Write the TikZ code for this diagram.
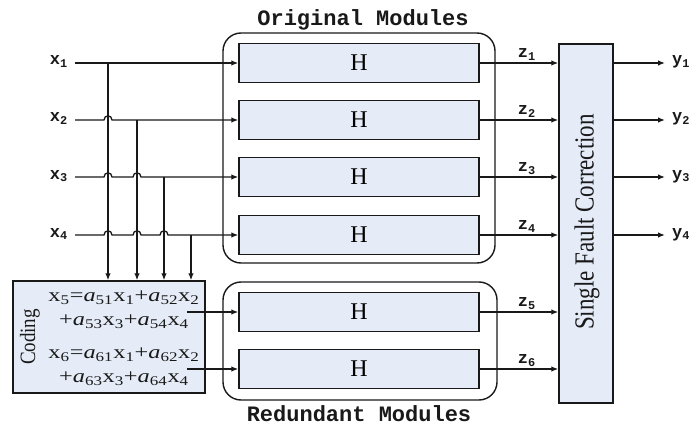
\documentclass[tikz,border=0pt]{standalone}
\usepackage{fontspec}
\setmainfont{Liberation Serif}
\newfontfamily\sigfont{Liberation Mono}
\usetikzlibrary{arrows.meta}
\definecolor{boxfill}{RGB}{229,236,247}
\definecolor{ink}{RGB}{25,25,25}
\newcommand\sbx[1]{\textsubscript{#1}}
\newcommand\coef[1]{\textit{a}\sbx{#1}}
\newcommand\wideeq[1]{\scalebox{1.28}[1]{#1}}

\begin{document}
\begin{tikzpicture}[x=1pt,y=-1pt,
  ln/.style={line width=1.3pt, draw=ink},
  arr/.style={ln, -{Latex[length=7pt,width=5.5pt]}},
  hbox/.style={draw=ink, line width=1.4pt, fill=boxfill, minimum width=240pt,
    minimum height=39pt, inner sep=0pt, font=\fontsize{24}{24}\selectfont},
  grp/.style={draw=ink, line width=1.4pt, rounded corners=18pt, inner sep=0pt},
  blk/.style={draw=ink, line width=1.4pt, fill=boxfill, inner sep=0pt},
  sig/.style={font=\sigfont\bfseries\fontsize{17}{17}\selectfont, inner sep=0pt, text=ink},
  ttl/.style={font=\sigfont\bfseries\fontsize{22}{22}\selectfont, inner sep=0pt, text=ink},
  eq/.style={font=\fontsize{19}{24}\selectfont, align=center, inner sep=0pt, text=ink},
]
\useasboundingbox (0,0) rectangle (691,425);

% module groups
\node[grp, minimum width=272pt, minimum height=230pt] (orig) at (359,148) {};
\node[grp, minimum width=274pt, minimum height=118pt] (red) at (360,341) {};
\node[ttl] (torig) at (363,20) {Original Modules};
\node[ttl] (tred) at (359,414) {Redundant Modules};

% processing modules
\node[hbox] (h1) at (359,63) {H};
\node[hbox] (h2) at (359,120) {H};
\node[hbox] (h3) at (359,177) {H};
\node[hbox] (h4) at (359,235) {H};
\node[hbox] (h5) at (359,312) {H};
\node[hbox] (h6) at (359,369) {H};

% coding block
\node[blk, minimum width=192pt, minimum height=112pt] (cod) at (109,337) {};
\node[rotate=90, inner sep=0pt, text=ink, font=\fontsize{19}{19}\selectfont] (tcod) at (30,337) {\scalebox{1}[1.15]{Coding}};
\node[eq] (eq5) at (124,310) {\wideeq{x\sbx{5}=\coef{51}x\sbx{1}+\coef{52}x\sbx{2}}\\\wideeq{+\coef{53}x\sbx{3}+\coef{54}x\sbx{4}}};
\node[eq] (eq6) at (124,367) {\wideeq{x\sbx{6}=\coef{61}x\sbx{1}+\coef{62}x\sbx{2}}\\\wideeq{+\coef{63}x\sbx{3}+\coef{64}x\sbx{4}}};

% correction block
\node[blk, minimum width=54pt, minimum height=359pt] (sfc) at (586,223.5) {};
\node[rotate=90, inner sep=0pt, text=ink, font=\fontsize{23}{23}\selectfont] (tsfc) at (587,222) {\scalebox{1}[1.2]{Single Fault Correction}};

% inputs
\coordinate (x1s) at (75,63);
\coordinate (x2s) at (75,120);
\coordinate (x3s) at (75,177);
\coordinate (x4s) at (75,235);
\node[sig, anchor=base east] (lx1) at (68,65) {x\sbx{1}};
\node[sig, anchor=base east] (lx2) at (68,122) {x\sbx{2}};
\node[sig, anchor=base east] (lx3) at (68,179) {x\sbx{3}};
\node[sig, anchor=base east] (lx4) at (68,237) {x\sbx{4}};

\draw[arr] (x1s) -- (h1.west);
\draw[arr] (x2s) -- (104,120) .. controls (104,114.5) and (112,114.5) .. (112,120) -- (h2.west);
\draw[arr] (x3s) -- (104,177) .. controls (104,171.5) and (112,171.5) .. (112,177)
  -- (133,177) .. controls (133,171.5) and (141,171.5) .. (141,177) -- (h3.west);
\draw[arr] (x4s) -- (104,235) .. controls (104,229.5) and (112,229.5) .. (112,235)
  -- (133,235) .. controls (133,229.5) and (141,229.5) .. (141,235)
  -- (160,235) .. controls (160,229.5) and (168,229.5) .. (168,235) -- (h4.west);

% taps into the coding block
\coordinate (j1) at (108,63);
\coordinate (j2) at (137,120);
\coordinate (j3) at (164,177);
\coordinate (j4) at (191,235);
\draw[arr] (j1) -- (cod.north -| j1);
\draw[arr] (j2) -- (cod.north -| j2);
\draw[arr] (j3) -- (cod.north -| j3);
\draw[arr] (j4) -- (cod.north -| j4);

% coded inputs to redundant modules
\coordinate (c5) at (187,312);
\coordinate (c6) at (187,369);
\draw[arr] (c5) -- (h5.west);
\draw[arr] (c6) -- (h6.west);

% module outputs
\foreach \i in {1,...,6}{
  \draw[arr] (h\i.east) -- node[sig, pos=0.6, above=2pt] {z\sbx{\i}} (h\i.east -| sfc.west);
}

% corrected outputs
\foreach \i in {1,...,4}{
  \coordinate (o\i) at (665,0 |- h\i.east);
  \draw[arr] (sfc.east |- h\i.east) -- (o\i);
  \node[sig, anchor=base west] (ly\i) at ([shift={(7,2)}]o\i) {y\sbx{\i}};
}
\end{tikzpicture}
\end{document}
